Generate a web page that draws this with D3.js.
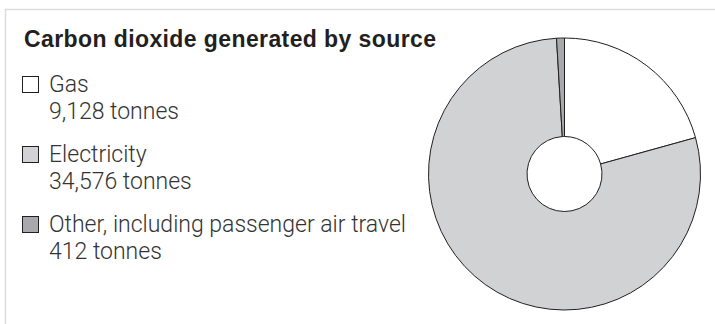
<!DOCTYPE html>
<html>
<head>
<meta charset="utf-8">
<script src="https://cdn.jsdelivr.net/npm/d3@7"></script>
<style>
  body { margin: 0; background: #fff; }
  svg { display: block; }
</style>
</head>
<body>
<svg></svg>
<script>
let width = 715, height = 324;

// data
const sources = ["Gas", "Electricity", "Other, including passenger air travel"];
const tonnes = [9128, 34576, 412];
const valueLabels = ["9,128 tonnes", "34,576 tonnes", "412 tonnes"];
const fills = ["#ffffff", "#d1d2d4", "#a7a9ac"];
const title = "Carbon dioxide generated by source";

let svg = d3.select("svg")
    .attr("width", width)
    .attr("height", height);

// light frame, top and left only
svg.append("path")
    .attr("d", "M5.5,324 V9.5 H715")
    .attr("fill", "none")
    .attr("stroke", "#dcdcdc")
    .attr("stroke-width", 1.5);

svg.append("text")
    .attr("x", 24)
    .attr("y", 47)
    .attr("font-family", "Liberation Sans, Arial, sans-serif")
    .attr("font-weight", "bold")
    .attr("font-size", "23px")
    .attr("letter-spacing", "0.4px")
    .attr("fill", "#231f20")
    .text(title);

// legend
let legend = svg.append("g")
    .selectAll("g")
    .data(sources)
    .enter()
    .append("g")
    .attr("transform", (d, i) => "translate(0," + (i * 70) + ")");

legend.append("rect")
    .attr("x", 22.5)
    .attr("y", 76.5)
    .attr("width", 16)
    .attr("height", 16)
    .attr("fill", (d, i) => fills[i])
    .attr("stroke", "#231f20")
    .attr("stroke-width", 1);

legend.append("text")
    .attr("x", 49)
    .attr("y", 92)
    .attr("font-family", "Roboto, sans-serif")
    .attr("font-weight", 300)
    .attr("font-size", "23px")
    .attr("fill", "#333")
    .text(d => d);

legend.append("text")
    .attr("x", 49)
    .attr("y", 119)
    .attr("font-family", "Roboto, sans-serif")
    .attr("font-weight", 300)
    .attr("font-size", "23px")
    .attr("fill", "#333")
    .text((d, i) => valueLabels[i]);

// donut
let pie = d3.pie().sort(null).value(d => d);
let arc = d3.arc().innerRadius(37.5).outerRadius(136);

svg.append("g")
    .attr("transform", "translate(564.5,174)")
    .selectAll("path")
    .data(pie(tonnes))
    .enter()
    .append("path")
    .attr("d", arc)
    .attr("fill", (d, i) => fills[i])
    .attr("stroke", "#231f20")
    .attr("stroke-width", 1);
</script>
</body>
</html>
